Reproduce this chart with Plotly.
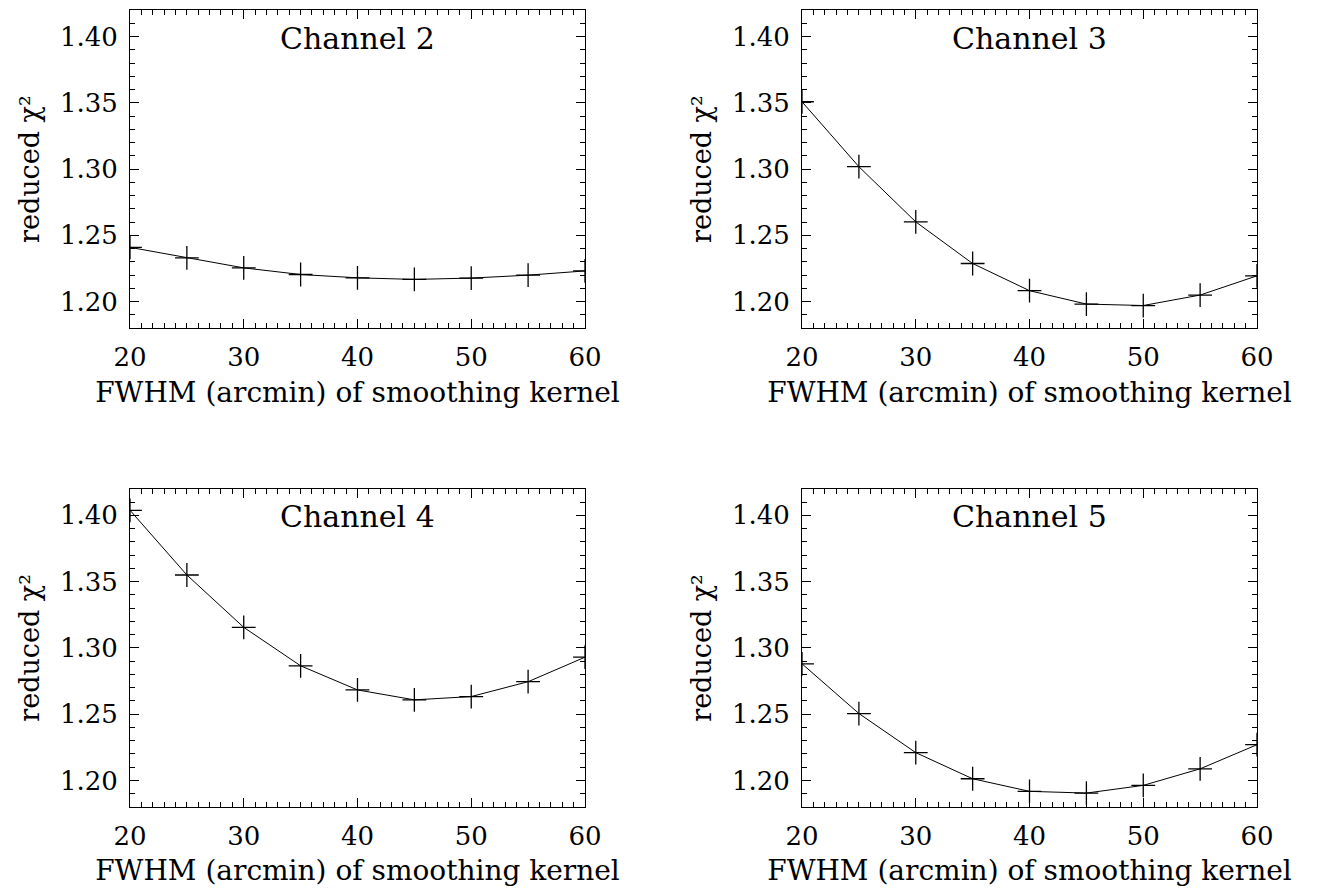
import plotly.graph_objects as go
from plotly.subplots import make_subplots

fwhm = [20, 25, 30, 35, 40, 45, 50, 55, 60]
chan2 = [1.241, 1.233, 1.2255, 1.2205, 1.218, 1.2168, 1.2178, 1.2200, 1.2232]
chan3 = [1.3508, 1.3018, 1.2602, 1.2288, 1.2083, 1.1982, 1.1971, 1.2050, 1.2195]
chan4 = [1.4038, 1.3550, 1.3155, 1.2865, 1.2683, 1.2608, 1.2633, 1.2745, 1.2930]
chan5 = [1.2880, 1.2505, 1.2210, 1.2013, 1.1918, 1.1905, 1.1963, 1.2088, 1.2270]
titles = ["Channel 2", "Channel 3", "Channel 4", "Channel 5"]
series = [chan2, chan3, chan4, chan5]
xticks = [20, 30, 40, 50, 60]
yticks = [1.20, 1.25, 1.30, 1.35, 1.40]

FONT = "DejaVu Serif"

fig = make_subplots(rows=2, cols=2, horizontal_spacing=0.1926, vertical_spacing=0.2015)

for i, (vals, title) in enumerate(zip(series, titles)):
    r, c = i // 2 + 1, i % 2 + 1
    fig.add_trace(go.Scatter(
        x=fwhm, y=vals, mode="lines+markers",
        line=dict(color="black", width=1),
        marker=dict(symbol="cross-thin", size=17, line=dict(color="black", width=1.3)),
        showlegend=False, cliponaxis=True,
    ), row=r, col=c)
    axn = "" if i == 0 else str(i + 1)
    fig.add_annotation(
        text=title, xref=f"x{axn} domain", yref=f"y{axn} domain",
        x=0.5, y=1, yanchor="middle", yshift=-28, showarrow=False,
        font=dict(family=FONT, size=30, color="black"),
    )

fig.update_xaxes(
    range=[20, 60], tickvals=xticks, ticks="inside", ticklen=9, tickwidth=1,
    tickcolor="black", showline=True, linecolor="black", linewidth=1,
    mirror="ticks", showgrid=False, zeroline=False,
    minor=dict(dtick=1, ticks="inside", ticklen=5, tickcolor="black", tickwidth=1, showgrid=False),
    tickfont=dict(family=FONT, size=26, color="black"), ticklabelstandoff=6,
    title=dict(text="FWHM (arcmin) of smoothing kernel",
               font=dict(family=FONT, size=28, color="black"), standoff=10),
)
fig.update_yaxes(
    range=[1.18, 1.42], tickvals=yticks, tickformat=".2f", ticks="inside", ticklen=9,
    tickwidth=1, tickcolor="black", showline=True, linecolor="black", linewidth=1,
    mirror="ticks", showgrid=False, zeroline=False,
    minor=dict(dtick=0.01, tick0=1.18, ticks="inside", ticklen=5, tickcolor="black", tickwidth=1, showgrid=False),
    tickfont=dict(family=FONT, size=26, color="black"), ticklabelstandoff=6,
    title=dict(text="reduced χ²",
               font=dict(family=FONT, size=27, color="black"), standoff=12),
)

fig.update_layout(
    width=1320, height=890,
    margin=dict(l=130, r=63, t=9, b=82),
    paper_bgcolor="white", plot_bgcolor="white",
    font=dict(family=FONT, color="black"),
)

fig.write_html("out.html")
